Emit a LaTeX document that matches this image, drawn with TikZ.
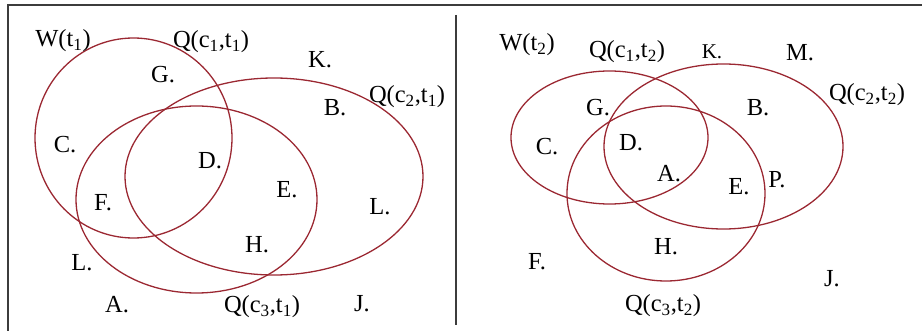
\documentclass[tikz,border=0pt]{standalone}
\usepackage{fontspec}
\setmainfont{Liberation Serif}
\begin{document}
\begin{tikzpicture}[x=1pt,y=-1pt,
  lbl/.style={inner sep=0pt, font=\fontsize{24.5}{28}\selectfont},
  venn/.style={draw={rgb,255:red,155;green,40;blue,50}, line width=1.3pt},
  frame/.style={draw={rgb,255:red,60;green,60;blue,60}, line width=1.8pt}]
\useasboundingbox (0,0) rectangle (922,331);
% frame
\coordinate (tl) at (8,5);
\coordinate (tr) at (922,5);
\coordinate (bl) at (8,331);
\coordinate (dt) at (456,15);
\coordinate (db) at (456,325);
\draw[frame] (bl) -- (tl) -- (tr);
\draw[frame, line width=1.5pt] (dt) -- (db);
% left panel ellipses
\draw[venn] (133.5,138) ellipse [x radius=98.5, y radius=100];
\draw[venn] (274,176.5) ellipse [x radius=149, y radius=98.5];
\draw[venn] (196.5,199.5) ellipse [x radius=120.5, y radius=93.5];
% right panel ellipses
\draw[venn] (609.5,137.5) ellipse [x radius=98.5, y radius=66.5];
\draw[venn] (723.5,146.5) ellipse [x radius=119.5, y radius=82.5];
\draw[venn] (666,193.5) ellipse [x radius=99, y radius=87.5];
% left labels
\node[lbl] (lW) at (63,41) {W(t\textsubscript{1})};
\node[lbl] (lQ1) at (211,42) {Q(c\textsubscript{1},t\textsubscript{1})};
\node[lbl] (lK) at (320,60) {K.};
\node[lbl] (lG) at (163,75) {G.};
\node[lbl] (lQ2) at (407,97) {Q(c\textsubscript{2},t\textsubscript{1})};
\node[lbl] (lB) at (335,108) {B.};
\node[lbl] (lC) at (65,145) {C.};
\node[lbl] (lD) at (210,161) {D.};
\node[lbl] (lE) at (287,190) {E.};
\node[lbl] (lF) at (103,203) {F.};
\node[lbl] (lL1) at (380,207) {L.};
\node[lbl] (lH) at (257,245) {H.};
\node[lbl] (lL2) at (82,263) {L.};
\node[lbl] (lA) at (117,305) {A.};
\node[lbl] (lQ3) at (262,307) {Q(c\textsubscript{3},t\textsubscript{1})};
\node[lbl] (lJ) at (362,304) {J.};
% right labels
\node[lbl] (rW) at (527,45) {W(t\textsubscript{2})};
\node[lbl] (rQ1) at (627,52) {Q(c\textsubscript{1},t\textsubscript{2})};
\node[lbl, font=\fontsize{21}{24}\selectfont] (rK) at (712,52) {K.};
\node[lbl] (rM) at (800,53) {M.};
\node[lbl] (rQ2) at (867,95) {Q(c\textsubscript{2},t\textsubscript{2})};
\node[lbl] (rG) at (598,108) {G.};
\node[lbl] (rB) at (758,108) {B.};
\node[lbl] (rC) at (547,147) {C.};
\node[lbl] (rD) at (631,143) {D.};
\node[lbl] (rA) at (669,174) {A.};
\node[lbl] (rE) at (739,187) {E.};
\node[lbl] (rP) at (777,180) {P.};
\node[lbl] (rH) at (666,247) {H.};
\node[lbl] (rF) at (537,262) {F.};
\node[lbl] (rJ) at (832,279) {J.};
\node[lbl] (rQ3) at (663,306) {Q(c\textsubscript{3},t\textsubscript{2})};
\end{tikzpicture}
\end{document}
